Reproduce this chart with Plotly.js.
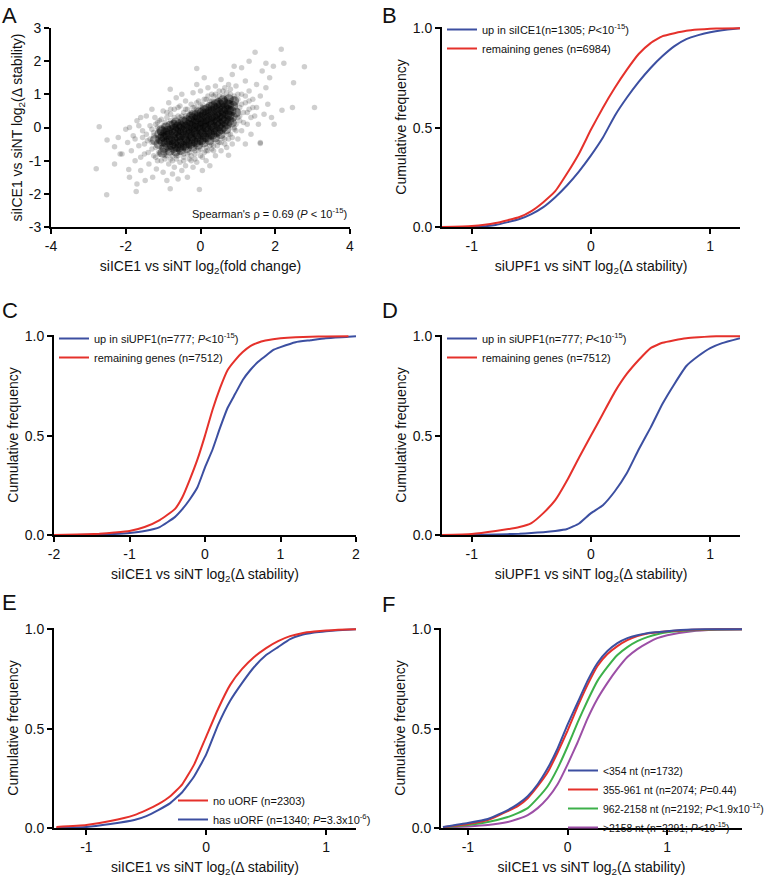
<!DOCTYPE html>
<html>
<head>
<meta charset="utf-8">
<script src="https://cdn.plot.ly/plotly-3.0.1.min.js"></script>
<style>html,body{margin:0;padding:0;background:#fff;overflow:hidden;}#chart{width:767px;height:877px;}</style>
</head>
<body>
<div id="chart"></div>
<script>
// ---------- Panel A: scatter (dense core + mid ring + diffuse halo) ----------
const coreX = [-1.12,-1.08,-1.1,-1.05,
  -0.97,-0.93,-0.96,-0.94,-0.92,
  -0.82,-0.78,-0.8,-0.83,-0.79,-0.81,
  -0.66,-0.64,-0.67,-0.63,-0.65,-0.62,-0.66,
  -0.52,-0.48,-0.5,-0.53,-0.49,-0.51,-0.47,
  -0.36,-0.34,-0.37,-0.33,-0.35,-0.32,-0.36,
  -0.21,-0.19,-0.22,-0.18,-0.2,-0.17,-0.21,-0.19,
  -0.06,-0.04,-0.07,-0.03,-0.05,-0.02,-0.06,-0.04,
  0.09,0.11,0.08,0.12,0.1,0.13,0.09,0.11,
  0.24,0.26,0.23,0.27,0.25,0.28,0.24,0.26,
  0.39,0.41,0.38,0.42,0.4,0.43,0.39,0.41,
  0.54,0.56,0.53,0.57,0.55,0.58,0.54,
  0.69,0.71,0.68,0.72,0.7,0.73,
  0.84,0.86,0.83,0.87,
  0.6,0.76,0.9,0.95,-1.22,-1.02,
  -1.02,-1.01,-1.03,
  -0.87,-0.86,-0.88,-0.87,
  -0.72,-0.71,-0.73,-0.72,-0.7,-0.72,
  -0.57,-0.56,-0.58,-0.57,-0.55,-0.57,
  -0.42,-0.41,-0.43,-0.42,-0.4,-0.42,
  -0.27,-0.26,-0.28,-0.27,-0.25,-0.27,-0.26,
  -0.12,-0.11,-0.13,-0.12,-0.1,-0.12,-0.11,
  0.03,0.04,0.02,0.03,0.05,0.03,0.04,
  0.17,0.18,0.16,0.17,0.19,0.17,0.18,
  0.32,0.33,0.31,0.32,0.34,0.32,0.33,
  0.47,0.48,0.46,0.47,0.49,0.47,0.48,
  0.62,0.63,0.61,0.62,0.64,0.62,
  0.77,0.78,0.76,0.77];
const coreY = [-0.5,-0.35,-0.2,-0.08,
  -0.62,-0.45,-0.3,-0.15,0.0,
  -0.7,-0.52,-0.38,-0.22,-0.08,0.05,
  -0.72,-0.58,-0.42,-0.27,-0.12,0.02,0.15,
  -0.68,-0.55,-0.4,-0.25,-0.1,0.04,0.18,
  -0.62,-0.48,-0.33,-0.2,-0.06,0.08,0.22,
  -0.58,-0.42,-0.28,-0.14,0.0,0.12,0.27,0.38,
  -0.52,-0.38,-0.22,-0.08,0.05,0.18,0.32,0.45,
  -0.45,-0.3,-0.15,0.0,0.12,0.25,0.4,0.52,
  -0.38,-0.22,-0.08,0.06,0.2,0.33,0.48,0.62,
  -0.3,-0.15,0.0,0.14,0.28,0.42,0.58,0.7,
  -0.2,-0.05,0.1,0.24,0.38,0.52,0.68,
  -0.05,0.1,0.25,0.4,0.55,0.7,
  0.15,0.32,0.5,0.65,
  0.82,0.85,0.8,0.45,-0.38,-0.76,
  -0.42,-0.27,-0.12,
  -0.55,-0.4,-0.25,-0.1,
  -0.62,-0.48,-0.33,-0.18,-0.04,0.08,
  -0.6,-0.47,-0.32,-0.17,-0.03,0.1,
  -0.56,-0.4,-0.26,-0.12,0.02,0.15,
  -0.5,-0.35,-0.2,-0.06,0.06,0.2,0.32,
  -0.45,-0.3,-0.15,-0.01,0.12,0.25,0.38,
  -0.38,-0.22,-0.08,0.06,0.18,0.32,0.46,
  -0.3,-0.15,0.0,0.14,0.28,0.42,0.56,
  -0.22,-0.08,0.07,0.21,0.35,0.5,0.64,
  -0.12,0.03,0.18,0.32,0.46,0.6,0.74,
  0.02,0.17,0.32,0.46,0.6,0.75,
  0.2,0.36,0.52,0.68];

const midX = [-1.5,-1.45,-1.4,-1.35,-1.3,-1.25,-1.2,-1.15,-1.1,-1.05,-1.0,-0.95,-0.9,-0.85,-0.8,-0.75,-0.7,-0.65,-0.6,-0.55,-0.5,-0.45,-0.4,-0.35,-0.3,-0.25,-0.2,-0.15,-0.1,-0.05,
  0.0,0.05,0.1,0.15,0.2,0.25,0.3,0.35,0.4,0.45,0.5,0.55,0.6,0.65,0.7,0.75,0.8,0.85,0.9,0.95,1.0,1.05,1.1,1.15,1.2,1.25,1.3,1.35,1.4,-1.6,-1.55,-1.65];
const midY = [-0.5,-0.2,-0.75,-0.35,-0.05,-0.85,0.1,-1.0,0.2,-0.6,0.05,-0.95,0.45,-0.7,0.55,-1.0,0.15,-0.85,0.6,-0.75,0.35,-1.0,0.55,-0.8,0.4,-1.0,0.6,-0.95,0.75,-0.7,
  0.65,-0.9,0.85,-0.7,0.95,-0.55,0.8,-0.7,1.0,-0.55,0.95,-0.45,1.1,-0.5,1.05,-0.35,1.15,-0.3,0.85,0.1,1.0,0.35,0.7,0.15,0.95,0.45,0.8,0.3,0.6,-0.9,-0.3,0.05];

const haloX = [-2.0,-1.95,-1.9,-1.85,-1.8,-1.75,-1.7,-1.65,-1.6,-1.55,-1.5,-1.45,-1.42,-1.38,-1.35,-1.3,-1.28,-1.25,-1.22,-1.2,-1.18,-1.15,-1.12,-1.6,-1.75,-1.48,-1.3,-2.2,-2.15,-2.3,-1.9,-1.7,
  -1.05,-1.0,-0.95,-0.9,-0.85,-0.8,-0.75,-0.7,-0.65,-0.6,-0.55,-0.5,-0.45,-0.4,-0.35,-0.3,
  -1.05,-1.0,-0.9,-0.85,-0.8,-0.7,-0.65,-0.6,-0.55,-0.5,-0.45,-0.4,-0.35,
  -0.25,-0.2,-0.15,-0.1,0.0,0.05,0.1,0.15,0.2,0.25,0.3,
  -0.25,-0.2,-0.15,-0.1,-0.05,0.0,0.05,0.1,0.15,0.2,0.25,0.3,
  0.35,0.4,0.5,0.55,0.65,0.7,0.8,0.85,0.95,1.0,
  0.35,0.4,0.45,0.5,0.55,0.6,0.65,0.7,0.75,0.8,0.85,0.9,0.95,1.0,
  1.05,1.05,1.1,1.1,1.15,1.2,1.2,1.25,1.3,1.3,1.35,1.4,1.45,1.5,1.5,1.55,1.6,1.65,1.7,1.75,1.8,1.85,1.9,1.95,1.1,1.3,0.9,1.2,1.6,
  -1.3,-1.25,-1.2,-1.15,-1.1,-1.0,-0.95,-0.9,-0.8,-0.75,-0.7,-0.6,-0.55,-0.45,-0.4,-0.3,-0.25,-0.15,-0.1,0.0,0.05,0.15,0.2,0.3,0.35,0.45,0.5,0.6,0.65,0.75,0.8,0.9,0.95,1.0,1.0,0.9,
  -2.79,-2.51,-2.71,-2.5,-2.3,-2.1,-1.92,-1.72,-0.81,-0.03,0.75,1.6,1.97,2.18,2.46,2.49,3.05,2.78,2.16,1.46,2.23,1.75,-0.1,-0.81];
const haloY = [-0.05,-0.45,0.0,-0.7,-0.25,-1.0,0.2,-0.55,-1.3,-0.1,-0.8,0.35,-0.4,-1.1,0.05,-0.65,-1.5,-0.25,0.3,-0.9,-1.25,0.15,-0.75,0.3,-0.35,-1.6,0.55,-0.3,-0.8,-1.1,-1.5,-1.7,
  -1.0,-1.35,-0.85,-1.6,-1.1,-0.95,-1.4,-1.2,-0.95,-1.55,-1.05,-1.3,-0.9,-1.15,-1.5,-0.95,
  0.25,0.5,0.3,0.75,0.4,0.55,0.9,0.35,0.65,1.0,0.45,0.8,0.55,
  -0.85,-1.2,-0.8,-1.05,-0.85,-1.3,-0.75,-1.0,-0.7,-1.15,-0.65,
  0.7,1.05,0.6,1.3,0.8,1.1,0.7,1.5,0.85,1.2,0.8,1.0,
  -0.55,-0.85,-0.45,-0.7,-0.35,-0.6,-0.2,-0.5,-0.1,-0.35,
  0.95,1.25,0.85,1.1,1.45,0.95,1.2,0.9,1.3,1.0,1.6,0.95,1.25,0.85,
  0.2,0.6,1.0,-0.1,0.45,1.4,0.75,0.1,0.55,1.1,-0.2,0.85,0.35,1.3,0.6,0.1,0.95,1.7,0.4,1.2,0.7,1.5,0.3,1.85,1.8,2.0,1.85,-0.5,-0.45,
  -0.45,-0.15,-0.6,0.0,-0.8,-0.75,0.15,-0.85,0.2,-0.85,0.3,-0.85,0.3,-0.8,0.35,-0.75,0.45,-0.7,0.55,-0.65,0.6,-0.6,0.68,-0.5,0.78,-0.42,0.82,-0.32,0.85,-0.2,0.82,0.0,0.7,0.3,0.5,-0.05,
  -1.24,-2.03,0.02,-0.38,-0.58,-0.8,-1.27,-1.93,-1.85,-1.87,-0.84,-0.48,0.1,0.52,0.6,1.35,0.6,1.83,2.36,2.27,1.94,1.94,1.78,1.15];

const aXTicks = [-4,-2,0,2,4];
const aXTickText = ['-4','-2','0','2','4'];
const aYTicks = [-3,-2,-1,0,1,2,3];
const aYTickText = ['-3','-2','-1','0','1','2','3'];

// ---------- Panel B ----------
const bX = [-1.25,-1.0,-0.8,-0.6,-0.5,-0.4,-0.3,-0.2,-0.1,0,0.1,0.2,0.3,0.4,0.5,0.6,0.7,0.8,0.9,1.0,1.1,1.25];
const bBlue = [0,0.0,0.01,0.04,0.065,0.10,0.15,0.21,0.28,0.36,0.45,0.56,0.65,0.73,0.80,0.86,0.91,0.945,0.965,0.98,0.99,1.0];
const bRed = [0,0.005,0.02,0.05,0.08,0.125,0.18,0.27,0.37,0.49,0.60,0.70,0.79,0.87,0.925,0.96,0.975,0.987,0.993,0.997,0.999,1.0];
const bNames = ['up in siICE1(n=1305; <i>P</i>&lt;10<sup>-15</sup>)', 'remaining genes (n=6984)'];

// ---------- Panel C ----------
const cX = [-2,-1.7,-1.4,-1.2,-1.0,-0.8,-0.6,-0.4,-0.3,-0.2,-0.1,0,0.1,0.2,0.3,0.4,0.5,0.6,0.7,0.8,0.9,1.0,1.2,1.4,1.6,1.9,2.0];
const cBlue = [null,0,0.002,0.005,0.01,0.02,0.04,0.09,0.13,0.18,0.24,0.34,0.43,0.54,0.64,0.71,0.78,0.83,0.87,0.90,0.93,0.945,0.97,0.98,0.99,0.997,1.0];
const cRed = [0,0.002,0.006,0.012,0.02,0.04,0.075,0.13,0.19,0.28,0.38,0.50,0.63,0.74,0.83,0.88,0.92,0.95,0.967,0.978,0.985,0.99,0.995,0.997,0.999,1.0,null];
const cNames = ['up in siUPF1(n=777; <i>P</i>&lt;10<sup>-15</sup>)', 'remaining genes (n=7512)'];

// ---------- Panel D ----------
const dX = [-1.25,-1.0,-0.8,-0.6,-0.5,-0.4,-0.3,-0.2,-0.1,0,0.1,0.2,0.3,0.4,0.5,0.6,0.7,0.8,0.9,1.0,1.1,1.25];
const dBlue = [null,0,0.003,0.006,0.01,0.014,0.02,0.03,0.058,0.11,0.15,0.22,0.31,0.43,0.54,0.66,0.76,0.85,0.90,0.94,0.965,0.99];
const dRed = [0,0.005,0.02,0.04,0.06,0.11,0.175,0.275,0.39,0.50,0.61,0.72,0.81,0.88,0.94,0.967,0.98,0.99,0.995,0.998,1.0,1.0];
const dNames = ['up in siUPF1(n=777; <i>P</i>&lt;10<sup>-15</sup>)', 'remaining genes (n=7512)'];

// ---------- Panel E ----------
const eX = [-1.25,-1.0,-0.8,-0.6,-0.5,-0.4,-0.3,-0.2,-0.1,0,0.1,0.2,0.3,0.4,0.5,0.6,0.7,0.8,0.9,1.0,1.1,1.25];
const eRed = [0.005,0.015,0.035,0.065,0.09,0.12,0.16,0.22,0.32,0.46,0.60,0.72,0.80,0.86,0.905,0.94,0.965,0.98,0.988,0.993,0.997,1.0];
const eBlue = [0,0.005,0.02,0.04,0.06,0.09,0.125,0.18,0.26,0.37,0.52,0.64,0.73,0.81,0.87,0.91,0.95,0.972,0.983,0.99,0.995,1.0];
const eNames = ['no uORF (n=2303)', 'has uORF (n=1340; <i>P</i>=3.3x10<sup>-6</sup>)'];

// ---------- Panel F ----------
const fX = [-1.25,-1.0,-0.8,-0.6,-0.5,-0.4,-0.3,-0.2,-0.1,0,0.1,0.2,0.3,0.4,0.5,0.6,0.7,0.8,0.9,1.0,1.25,1.5,1.75];
const fBlue = [0.005,0.025,0.045,0.09,0.12,0.16,0.22,0.30,0.40,0.52,0.63,0.74,0.83,0.89,0.93,0.955,0.97,0.98,0.985,0.99,0.998,1.0,1.0];
const fRed = [0.004,0.02,0.04,0.085,0.11,0.15,0.21,0.28,0.38,0.49,0.61,0.72,0.815,0.875,0.915,0.945,0.965,0.978,0.985,0.99,0.997,1.0,1.0];
const fGreen = [0.003,0.015,0.03,0.055,0.075,0.10,0.15,0.21,0.30,0.41,0.53,0.64,0.74,0.81,0.87,0.91,0.94,0.96,0.975,0.985,0.995,0.999,1.0];
const fPurple = [0.002,0.008,0.015,0.03,0.045,0.065,0.10,0.15,0.22,0.32,0.43,0.55,0.65,0.73,0.80,0.86,0.90,0.93,0.955,0.97,0.99,0.997,1.0];
const fNames = ['&lt;354 nt (n=1732)', '355-961 nt (n=2074; <i>P</i>=0.44)', '962-2158 nt (n=2192; <i>P</i>&lt;1.9x10<sup>-12</sup>)', '&gt;2158 nt (n=2291; <i>P</i>&lt;10<sup>-15</sup>)'];

const cdfYTicks = [0, 0.5, 1];
const cdfYTickText = ['0.0', '0.5', '1.0'];
const pmTicks = [-1, 0, 1];
const pmTickText = ['-1', '0', '1'];
const cTicks = [-2, -1, 0, 1, 2];
const cTickText = ['-2', '-1', '0', '1', '2'];

// ---------- styling ----------
const BLUE = '#3c4fa1', RED = '#e5312b', GREEN = '#3db04a', PURPLE = '#9c4fa6';
const FONT = 'Liberation Sans, Arial, Helvetica, sans-serif';
const LW = 2;

function line(x, y, color, name, xa, ya, legend) {
  return {type: 'scatter', mode: 'lines', x: x, y: y, name: name, xaxis: xa, yaxis: ya,
    legend: legend, line: {color: color, width: LW, shape: 'spline', smoothing: 0.4}, hoverinfo: 'skip', connectgaps: false};
}
const haloMarker = {color: 'rgba(0,0,0,0.19)', size: 5.5, line: {width: 0}};

const traces = [
  {type: 'scatter', mode: 'markers', x: haloX, y: haloY, xaxis: 'x', yaxis: 'y', showlegend: false, marker: haloMarker, hoverinfo: 'skip'},
  {type: 'scatter', mode: 'markers', x: midX, y: midY, xaxis: 'x', yaxis: 'y', showlegend: false, marker: haloMarker, hoverinfo: 'skip'},
  {type: 'scatter', mode: 'markers', x: coreX, y: coreY, xaxis: 'x', yaxis: 'y', showlegend: false,
   marker: {color: 'rgba(0,0,0,0.36)', size: 10, line: {width: 0}}, hoverinfo: 'skip'},
  line(bX, bBlue, BLUE, bNames[0], 'x2', 'y2', 'legend'),
  line(bX, bRed, RED, bNames[1], 'x2', 'y2', 'legend'),
  line(cX, cBlue, BLUE, cNames[0], 'x3', 'y3', 'legend2'),
  line(cX, cRed, RED, cNames[1], 'x3', 'y3', 'legend2'),
  line(dX, dBlue, BLUE, dNames[0], 'x4', 'y4', 'legend3'),
  line(dX, dRed, RED, dNames[1], 'x4', 'y4', 'legend3'),
  line(eX, eBlue, BLUE, eNames[1], 'x5', 'y5', 'legend4'),
  line(eX, eRed, RED, eNames[0], 'x5', 'y5', 'legend4'),
  line(fX, fPurple, PURPLE, fNames[3], 'x6', 'y6', 'legend5'),
  line(fX, fGreen, GREEN, fNames[2], 'x6', 'y6', 'legend5'),
  line(fX, fRed, RED, fNames[1], 'x6', 'y6', 'legend5'),
  line(fX, fBlue, BLUE, fNames[0], 'x6', 'y6', 'legend5')
];

function ax(o) {
  return Object.assign({
    showline: true, linewidth: 2, linecolor: '#000', ticks: 'outside', ticklen: 5, tickwidth: 2,
    tickcolor: '#000', showgrid: false, zeroline: false, tickfont: {size: 14, color: '#111'},
    fixedrange: true, layer: 'below traces', automargin: false
  }, o);
}
const px = v => v / 767;
const py = v => 1 - v / 877;
const xStab = 'siICE1 vs siNT log<sub>2</sub>(Δ stability)';
const xStabU = 'siUPF1 vs siNT log<sub>2</sub>(Δ stability)';
const yCum = 'Cumulative frequency';
const titleFont = {size: 14, color: '#111'};
const xt = t => ({text: t, font: titleFont, standoff: 8});
const yt = t => ({text: t, font: titleFont, standoff: 3});

function legendAt(x, y, order, size) {
  return {x: px(x), y: py(y), xanchor: 'left', yanchor: 'top', bgcolor: 'rgba(0,0,0,0)',
    font: {size: size || 11, color: '#111'}, itemwidth: 30, traceorder: order || 'normal'};
}

const layout = {
  width: 767, height: 877, margin: {l: 0, r: 0, t: 0, b: 0, autoexpand: false},
  paper_bgcolor: '#fff', plot_bgcolor: '#fff',
  font: {family: FONT, color: '#111'},
  showlegend: true,
  xaxis: ax({domain: [px(51), px(350)], range: [-4, 4], tickvals: aXTicks, ticktext: aXTickText, anchor: 'y',
    title: xt('siICE1 vs siNT log<sub>2</sub>(fold change)')}),
  yaxis: ax({domain: [py(227), py(28)], range: [-3, 3], tickvals: aYTicks, ticktext: aYTickText, anchor: 'x',
    title: yt(xStab)}),
  xaxis2: ax({domain: [px(442), px(740)], range: [-1.25, 1.25], tickvals: pmTicks, ticktext: pmTickText, anchor: 'y2', title: xt(xStabU)}),
  yaxis2: ax({domain: [py(227), py(27)], range: [0, 1.006], tickvals: cdfYTicks, ticktext: cdfYTickText, anchor: 'x2', title: yt(yCum)}),
  xaxis3: ax({domain: [px(54), px(356)], range: [-2, 2], tickvals: cTicks, ticktext: cTickText, anchor: 'y3', title: xt(xStab)}),
  yaxis3: ax({domain: [py(535), py(335)], range: [0, 1.006], tickvals: cdfYTicks, ticktext: cdfYTickText, anchor: 'x3', title: yt(yCum)}),
  xaxis4: ax({domain: [px(442), px(740)], range: [-1.25, 1.25], tickvals: pmTicks, ticktext: pmTickText, anchor: 'y4', title: xt(xStabU)}),
  yaxis4: ax({domain: [py(535), py(335)], range: [0, 1.006], tickvals: cdfYTicks, ticktext: cdfYTickText, anchor: 'x4', title: yt(yCum)}),
  xaxis5: ax({domain: [px(54), px(356)], range: [-1.27, 1.25], tickvals: pmTicks, ticktext: pmTickText, anchor: 'y5', title: xt(xStab)}),
  yaxis5: ax({domain: [py(828), py(628)], range: [0, 1.006], tickvals: cdfYTicks, ticktext: cdfYTickText, anchor: 'x5', title: yt(yCum)}),
  xaxis6: ax({domain: [px(441), px(742)], range: [-1.27, 1.75], tickvals: pmTicks, ticktext: pmTickText, anchor: 'y6', title: xt(xStab)}),
  yaxis6: ax({domain: [py(828), py(628)], range: [0, 1.006], tickvals: cdfYTicks, ticktext: cdfYTickText, anchor: 'x6', title: yt(yCum)}),
  legend: legendAt(442, 15),
  legend2: legendAt(54, 324),
  legend3: legendAt(442, 324),
  legend4: legendAt(173, 786, 'reversed'),
  legend5: legendAt(563, 756, 'reversed', 10.4),
  annotations: [
    {text: 'A', x: 0, y: py(1), xref: 'paper', yref: 'paper', xanchor: 'left', yanchor: 'top', showarrow: false, font: {size: 22, color: '#111'}},
    {text: 'B', x: px(380), y: py(1), xref: 'paper', yref: 'paper', xanchor: 'left', yanchor: 'top', showarrow: false, font: {size: 22, color: '#111'}},
    {text: 'C', x: 0, y: py(296), xref: 'paper', yref: 'paper', xanchor: 'left', yanchor: 'top', showarrow: false, font: {size: 22, color: '#111'}},
    {text: 'D', x: px(380), y: py(296), xref: 'paper', yref: 'paper', xanchor: 'left', yanchor: 'top', showarrow: false, font: {size: 22, color: '#111'}},
    {text: 'E', x: 0, y: py(588), xref: 'paper', yref: 'paper', xanchor: 'left', yanchor: 'top', showarrow: false, font: {size: 22, color: '#111'}},
    {text: 'F', x: px(380), y: py(590), xref: 'paper', yref: 'paper', xanchor: 'left', yanchor: 'top', showarrow: false, font: {size: 22, color: '#111'}},
    {text: "Spearman's ρ = 0.69 (<i>P</i> &lt; 10<sup>-15</sup>)", x: px(349), y: py(213), xref: 'paper', yref: 'paper',
     xanchor: 'right', yanchor: 'middle', showarrow: false, font: {size: 11, color: '#111'}}
  ]
};

Plotly.newPlot('chart', traces, layout, {staticPlot: true, displayModeBar: false});
</script>
</body>
</html>
